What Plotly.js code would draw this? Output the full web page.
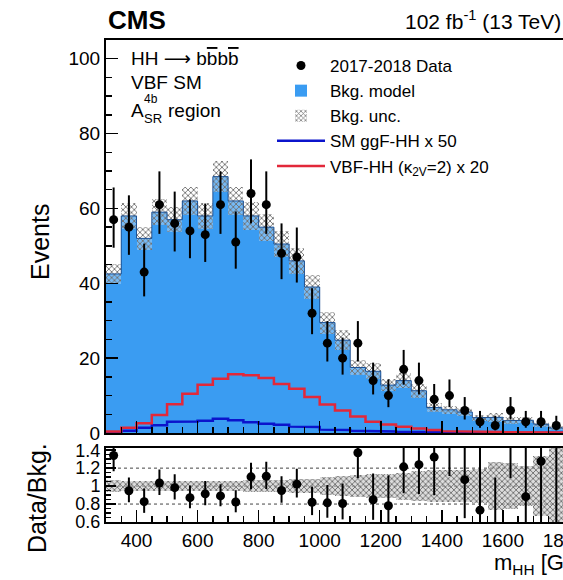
<!DOCTYPE html>
<html><head><meta charset="utf-8">
<script src="https://cdn.plot.ly/plotly-3.0.1.min.js"></script>
<style>html,body{margin:0;padding:0;overflow:hidden;background:#fff}#chart{width:640px;height:580px}</style>
</head><body><div id="chart"></div>
<script>
// bin centres of m_HH (GeV), 50 GeV wide bins
const massCenters = [325,375,425,475,525,575,625,675,725,775,825,875,925,975,1025,1075,1125,1175,1225,1275,1325,1375,1425,1475,1525,1575,1625,1675,1725,1775];
const binWidth = 50;
// observed 2017-2018 data
const dataCounts = [57,55,43,61,56,54,53,61,51,64,61,48,47,32,24,20,24,14,10,17,14,9,10,6,3,2,6,3,3,2];
const dataErrUp   = [8.6,8.5,7.6,8.9,8.5,8.4,8.3,8.9,8.2,9.1,8.9,8.0,7.9,6.7,5.9,5.5,5.9,4.8,4.3,5.2,4.8,4.1,4.3,3.6,2.9,2.6,3.6,2.9,2.9,2.6];
const dataErrDown = [7.5,7.4,6.5,7.8,7.5,7.3,7.3,7.8,7.1,8.0,7.8,6.9,6.8,5.6,4.9,4.4,4.9,3.7,3.1,4.1,3.7,2.9,3.1,2.4,1.6,1.3,2.4,1.6,1.6,1.3];
// background model and its relative uncertainty
const bkgModel = [42.5,58,52,59,57,62,58,68.5,62,58,55,50.5,46,39,29.5,24.8,17.5,16.5,12.8,14,11.3,6.8,6.2,5.6,4.1,4.2,3.3,3.4,2.35,1.35];
const bkgRelUnc = [0.065,0.06,0.06,0.06,0.06,0.06,0.06,0.06,0.06,0.065,0.065,0.07,0.075,0.08,0.1,0.11,0.12,0.13,0.13,0.15,0.17,0.18,0.18,0.18,0.19,0.27,0.26,0.22,0.33,0.45];
// signals
const ggfSMx50 = [0.2,0.6,1.4,2.1,3.0,3.1,3.3,3.8,3.4,2.9,2.5,2.2,1.7,1.6,0.9,0.8,0.6,0.5,0.4,0.35,0.3,0.25,0.2,0.2,0.15,0.1,0.1,0.1,0.1,0.1];
const vbfK2V2x20 = [0.4,1.4,2.6,4.8,7.7,10.5,12.9,14.5,15.7,15.4,14.7,13.1,11.8,9.6,7.6,6.0,4.4,3.0,2.3,1.7,1.2,0.8,0.5,0.4,0.3,0.3,0.2,0.2,0.15,0.1];

const FONT = 'Liberation Sans, Arial, Helvetica, sans-serif';
const BLUE = '#3a9cf2';

function steps(vals){
  const xs=[], ys=[];
  massCenters.forEach((c,i)=>{ xs.push(c-binWidth/2, c+binWidth/2); ys.push(vals[i], vals[i]); });
  return {x:xs, y:ys};
}
const bandPattern = {shape:'x', fgcolor:'#707070', bgcolor:'rgba(255,255,255,0.3)', size:4, solidity:0.4};

const bkgStep = steps(bkgModel), ggfStep = steps(ggfSMx50), vbfStep = steps(vbfK2V2x20);
const ratio = dataCounts.map((d,i)=>d/bkgModel[i]);
const ratioUp = dataErrUp.map((e,i)=>e/bkgModel[i]);
const ratioDn = dataErrDown.map((e,i)=>e/bkgModel[i]);

const traces = [
  {type:'bar', x:massCenters, y:bkgModel, width:binWidth, marker:{color:BLUE, line:{width:0}},
   name:'Bkg. model', legendrank:2, legendgroup:'b', xaxis:'x', yaxis:'y', hoverinfo:'skip'},
  {type:'bar', x:massCenters, base:bkgModel.map((b,i)=>b*(1-bkgRelUnc[i])), y:bkgModel.map((b,i)=>2*b*bkgRelUnc[i]),
   width:binWidth, marker:{color:'rgba(255,255,255,0.3)', pattern:bandPattern, line:{width:0}},
   name:'Bkg. unc.', legendrank:3, legendgroup:'c', xaxis:'x', yaxis:'y', hoverinfo:'skip'},
  {type:'scatter', mode:'lines', x:bkgStep.x, y:bkgStep.y, line:{color:'#1d5194', width:1},
   showlegend:false, xaxis:'x', yaxis:'y', hoverinfo:'skip'},
  {type:'scatter', mode:'lines', x:ggfStep.x, y:ggfStep.y, line:{color:'#0b14cc', width:2.5},
   name:'SM ggF-HH x 50', legendrank:4, legendgroup:'d', xaxis:'x', yaxis:'y', hoverinfo:'skip'},
  {type:'scatter', mode:'lines', x:vbfStep.x, y:vbfStep.y, line:{color:'#e2283a', width:2.5},
   name:'VBF-HH (κ<sub>2V</sub>=2) x 20', legendrank:5, legendgroup:'e', xaxis:'x', yaxis:'y', hoverinfo:'skip'},
  {type:'scatter', mode:'markers', x:massCenters, y:dataCounts, marker:{color:'#000', size:9},
   error_y:{type:'data', symmetric:false, array:dataErrUp, arrayminus:dataErrDown, thickness:2, width:0, color:'#000'},
   name:'2017-2018 Data', legendrank:1, legendgroup:'a', xaxis:'x', yaxis:'y', hoverinfo:'skip'},
  {type:'bar', x:massCenters, base:bkgRelUnc.map(r=>1-r), y:bkgRelUnc.map(r=>2*r), width:binWidth,
   marker:{color:'rgba(255,255,255,0)', pattern:{shape:'x', fgcolor:'#6e6e6e', bgcolor:'rgba(185,185,185,0.5)', size:4, solidity:0.4}, line:{width:0}},
   showlegend:false, xaxis:'x2', yaxis:'y2', hoverinfo:'skip'},
  {type:'scatter', mode:'markers', x:massCenters, y:ratio, marker:{color:'#000', size:9},
   error_y:{type:'data', symmetric:false, array:ratioUp, arrayminus:ratioDn, thickness:2, width:0, color:'#000'},
   showlegend:false, xaxis:'x2', yaxis:'y2', hoverinfo:'skip', cliponaxis:true}
];

const W = 519, H = 482, L = 106, T = 40;
const px = v => (v - L)/W;
const py = v => (T + H - v)/H;

const axisCommon = {showline:true, linecolor:'#000', linewidth:2, ticks:'inside', tickcolor:'#000', tickwidth:1.5,
  showgrid:false, zeroline:false, tickfont:{family:FONT, size:19, color:'#000'}};

const layout = {
  width:640, height:580,
  margin:{l:L, r:640-L-W, t:T, b:580-T-H},
  paper_bgcolor:'#fff', plot_bgcolor:'rgba(0,0,0,0)',
  barmode:'overlay', bargap:0,
  font:{family:FONT, color:'#000'},
  showlegend:true,
  legend:{x:px(272), y:py(48), xanchor:'left', yanchor:'top', bgcolor:'rgba(0,0,0,0)',
    font:{family:FONT, size:17, color:'#000'}, tracegroupgap:6, itemwidth:48, traceorder:'normal'},
  xaxis:Object.assign({}, axisCommon, {domain:[0,1], anchor:'y', range:[300,2000], dtick:200, tick0:0, ticklen:12,
    minor:{dtick:50, ticklen:6, ticks:'inside', tickcolor:'#000', tickwidth:1.5}, showticklabels:false, mirror:true}),
  yaxis:Object.assign({}, axisCommon, {domain:[py(433),1], anchor:'x', range:[0,105], dtick:20, tick0:0, ticklen:12,
    minor:{dtick:5, ticklen:6, ticks:'inside', tickcolor:'#000', tickwidth:1.5}, mirror:'ticks'}),
  xaxis2:Object.assign({}, axisCommon, {domain:[0,1], anchor:'y2', matches:'x', range:[300,2000], dtick:200, tick0:0, ticklen:12,
    minor:{dtick:50, ticklen:6, ticks:'inside', tickcolor:'#000', tickwidth:1.5}, mirror:true}),
  yaxis2:Object.assign({}, axisCommon, {domain:[0,py(447.5)], anchor:'x2', range:[0.6,1.43], dtick:0.2, tick0:0.6, ticklen:10,
    tickfont:{family:FONT, size:18, color:'#000'},
    minor:{dtick:0.05, ticklen:5, ticks:'inside', tickcolor:'#000', tickwidth:1.5}, mirror:'ticks'}),
  shapes:[0.8,1.0,1.2].map(v=>({type:'line', xref:'paper', x0:0, x1:1, yref:'y2', y0:v, y1:v,
    line:{color:'#444', width:1, dash:'dot'}, layer:'below'})),
  annotations:[
    {text:'<b>CMS</b>', x:px(106), y:py(20), xref:'paper', yref:'paper', xanchor:'left', yanchor:'middle', showarrow:false, font:{family:FONT, size:26}},
    {text:'102 fb<sup>-1</sup> (13 TeV)', x:px(563), y:py(20), xref:'paper', yref:'paper', xanchor:'right', yanchor:'middle', showarrow:false, font:{family:FONT, size:21}},
    {text:'HH <span style="font-family:DejaVu Sans">⟶</span> b<span style="text-decoration:overline">b</span>b<span style="text-decoration:overline">b</span>', x:px(129), y:py(58), xref:'paper', yref:'paper', xanchor:'left', yanchor:'middle', showarrow:false, font:{family:FONT, size:19}},
    {text:'VBF SM', x:px(129), y:py(82), xref:'paper', yref:'paper', xanchor:'left', yanchor:'middle', showarrow:false, font:{family:FONT, size:19}},
    {text:'A', x:px(129), y:py(110), xref:'paper', yref:'paper', xanchor:'left', yanchor:'middle', showarrow:false, font:{family:FONT, size:19}},
    {text:'4b', x:px(142), y:py(99), xref:'paper', yref:'paper', xanchor:'left', yanchor:'middle', showarrow:false, font:{family:FONT, size:12}},
    {text:'SR', x:px(142), y:py(119), xref:'paper', yref:'paper', xanchor:'left', yanchor:'middle', showarrow:false, font:{family:FONT, size:13}},
    {text:'region', x:px(166), y:py(110), xref:'paper', yref:'paper', xanchor:'left', yanchor:'middle', showarrow:false, font:{family:FONT, size:19}},
    {text:'Events', x:px(40), y:py(242), xref:'paper', yref:'paper', xanchor:'center', yanchor:'middle', textangle:-90, showarrow:false, font:{family:FONT, size:25}},
    {text:'Data/Bkg.', x:px(37), y:py(498), xref:'paper', yref:'paper', xanchor:'center', yanchor:'middle', textangle:-90, showarrow:false, font:{family:FONT, size:25}},
    {text:'m<sub>HH</sub> [GeV]', x:px(492), y:py(564), xref:'paper', yref:'paper', xanchor:'left', yanchor:'middle', showarrow:false, font:{family:FONT, size:22}}
  ]
};

Plotly.newPlot('chart', traces, layout, {staticPlot:true, displayModeBar:false});
</script></body></html>
